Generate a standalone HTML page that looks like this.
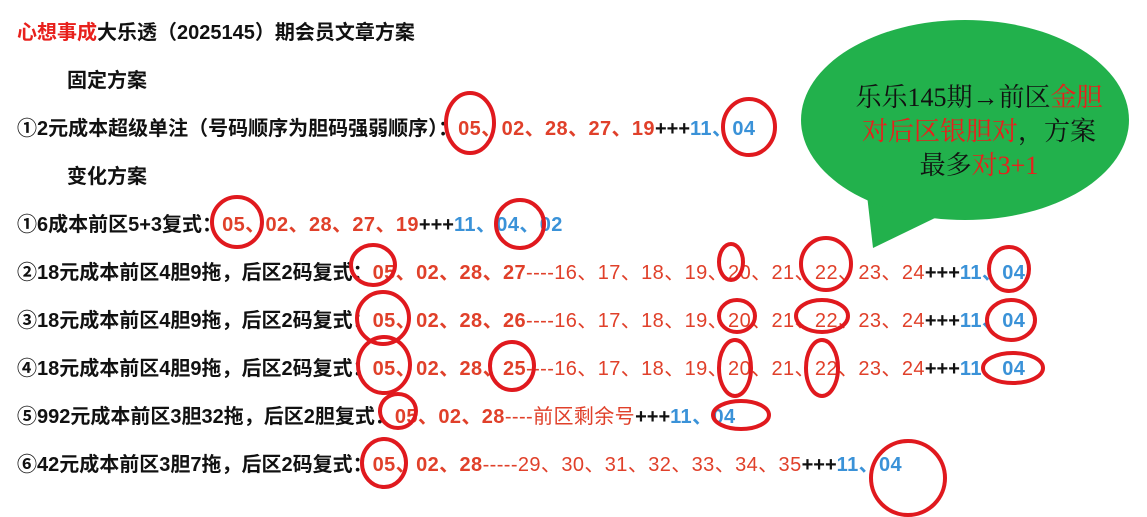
<!DOCTYPE html>
<html><head><meta charset="utf-8"><style>
body{margin:0;width:1147px;height:517px;background:#fff;position:relative;overflow:hidden;font-family:"Liberation Sans","Noto Sans CJK SC",sans-serif;}
.l{position:absolute;left:17px;font-size:20px;font-weight:bold;color:#111;white-space:nowrap;line-height:26px;}
.l span{letter-spacing:0.4px}
.r{color:#e0402a}.b{color:#3a92d8}.n{font-weight:normal;color:#e0402a}
.bub{position:absolute;left:0;top:0}
.bt{position:absolute;left:829px;width:300px;text-align:center;font-family:"Liberation Serif","Noto Serif CJK SC",serif;font-size:26px;line-height:34px;top:81px;color:#111}
.bt .r{color:#e8201c}
</style></head><body>
<div class="l" style="top:20px"><span style="color:#e8201c;letter-spacing:0">心想事成</span>大乐透（2025145）期会员文章方案</div>
<div class="l" style="top:68px;left:67px">固定方案</div>
<div class="l" style="top:116px">①2元成本超级单注（号码顺序为胆码强弱顺序）：<span class="r">05、02、28、27、19</span>+++<span class="b">11、04</span></div>
<div class="l" style="top:164px;left:67px">变化方案</div>
<div class="l" style="top:212px">①6成本前区5+3复式：<span class="r">05、02、28、27、19</span>+++<span class="b">11、04、02</span></div>
<div class="l" style="top:260px">②18元成本前区4胆9拖，后区2码复式：<span class="r">05、02、28、27</span><span class="n">----16、17、18、19、20、21、22、23、24</span>+++<span class="b">11、04</span></div>
<div class="l" style="top:308px">③18元成本前区4胆9拖，后区2码复式：<span class="r">05、02、28、26</span><span class="n">----16、17、18、19、20、21、22、23、24</span>+++<span class="b">11、04</span></div>
<div class="l" style="top:356px">④18元成本前区4胆9拖，后区2码复式：<span class="r">05、02、28、25</span><span class="n">----16、17、18、19、20、21、22、23、24</span>+++<span class="b">11、04</span></div>
<div class="l" style="top:404px">⑤992元成本前区3胆32拖，后区2胆复式：<span class="r">05、02、28</span><span class="n">----前区剩余号</span>+++<span class="b">11、04</span></div>
<div class="l" style="top:452px">⑥42元成本前区3胆7拖，后区2码复式：<span class="r">05、02、28</span><span class="n">-----29、30、31、32、33、34、35</span>+++<span class="b">11、04</span></div>
<svg class="bub" width="1147" height="517">
<path d="M867,195 L873,248 L935,218 Z" fill="#22b14c"/>
<ellipse cx="965" cy="120" rx="164" ry="100" fill="#22b14c"/>
<g fill="none" stroke="#e0191e" stroke-width="4">
<ellipse cx="470" cy="123" rx="24" ry="30"/><ellipse cx="749" cy="127" rx="26" ry="28"/>
<ellipse cx="237" cy="222" rx="25" ry="25"/><ellipse cx="520" cy="224" rx="24" ry="24"/>
<ellipse cx="373" cy="265" rx="22" ry="20"/><ellipse cx="731" cy="262" rx="12" ry="18"/><ellipse cx="826" cy="264" rx="25" ry="26"/><ellipse cx="1009" cy="269" rx="20" ry="22"/>
<ellipse cx="383" cy="318" rx="26" ry="26"/><ellipse cx="737" cy="316" rx="18" ry="16"/><ellipse cx="822" cy="316" rx="26" ry="16"/><ellipse cx="1011" cy="320" rx="24" ry="20"/>
<ellipse cx="384" cy="365" rx="26" ry="28"/><ellipse cx="512" cy="366" rx="22" ry="24"/><ellipse cx="735" cy="368" rx="16" ry="28"/><ellipse cx="822" cy="368" rx="16" ry="28"/><ellipse cx="1013" cy="368" rx="30" ry="15"/>
<ellipse cx="398" cy="411" rx="18" ry="17"/><ellipse cx="741" cy="415" rx="28" ry="14"/>
<ellipse cx="384" cy="463" rx="22" ry="24"/><ellipse cx="908" cy="478" rx="37" ry="37"/>
</g></svg>
<div class="bt">乐乐145期→前区<span class="r">金胆</span><br><span class="r">对后区银胆对</span>，方案<br>最多<span class="r">对3+1</span></div>
</body></html>
